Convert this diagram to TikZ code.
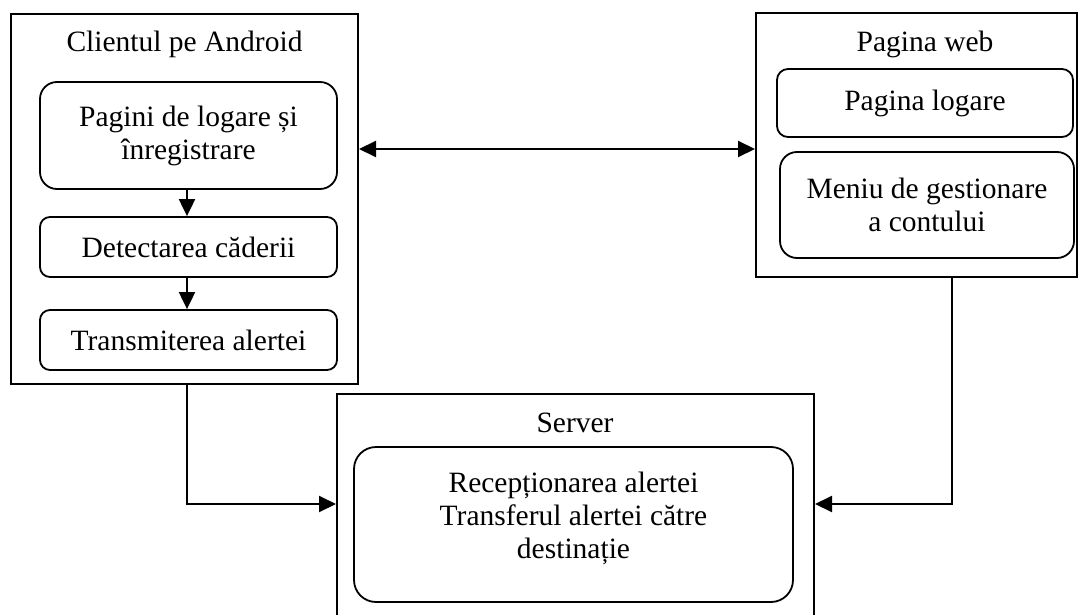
\documentclass[tikz,border=0pt]{standalone}
\usepackage{fontspec}
\setmainfont{Liberation Serif}
\usetikzlibrary{arrows.meta,calc}
\tikzset{
  outerbox/.style={draw, line width=2pt, inner sep=0pt},
  innerbox/.style={draw, line width=1.8pt, inner sep=0pt, align=center},
  txt/.style={inner sep=0pt, align=center},
  arr/.style={line width=2pt, -{Triangle[length=17pt,width=16pt]}},
  biarr/.style={line width=2pt, {Triangle[length=17pt,width=16pt]}-{Triangle[length=17pt,width=16pt]}}
}
\begin{document}
\begin{tikzpicture}[x=1pt,y=-1pt,font=\fontsize{29.5}{33}\selectfont]
\clip (0,0) rectangle (1079,615);
\fill[white] (0,0) rectangle (1079,615);
% Android client
\node[outerbox, minimum width=347pt, minimum height=370pt] (client) at (184.5,199) {};
\node[txt, anchor=base] (clienttitle) at (184.5,52) {Clientul pe Android};
\node[innerbox, rounded corners=17pt, minimum width=297pt, minimum height=107pt] (cl1) at (188.5,135.5) {Pagini de logare și\\înregistrare};
\node[innerbox, rounded corners=10pt, minimum width=297pt, minimum height=60pt] (cl2) at (188.5,247) {Detectarea căderii};
\node[innerbox, rounded corners=10pt, minimum width=297pt, minimum height=60pt] (cl3) at (188.5,340) {Transmiterea alertei};
% Web page
\node[outerbox, minimum width=321pt, minimum height=264pt] (web) at (916.5,145) {};
\node[txt, anchor=base] (webtitle) at (925,52) {Pagina web};
\node[innerbox, rounded corners=11pt, minimum width=296pt, minimum height=68pt] (w1) at (925,103) {Pagina logare};
\node[innerbox, rounded corners=17pt, minimum width=294pt, minimum height=106pt] (w2) at (927,205) {Meniu de gestionare\\a contului};
% Server
\node[outerbox, minimum width=477pt, minimum height=246pt] (server) at (575.5,517) {};
\node[txt, anchor=base] (servertitle) at (575,432) {Server};
\node[innerbox, rounded corners=22pt, minimum width=439pt, minimum height=155pt] (s1) at (573.5,524.5) {};
\node[txt] (s1text) at (573.5,518) {Recepționarea alertei\\Transferul alertei către\\destinație};
% connectors
\draw[arr] ([xshift=-1.5pt]cl1.south) -- ([xshift=-1.5pt]cl2.north);
\draw[arr] ([xshift=-1.5pt]cl2.south) -- ([xshift=-1.5pt]cl3.north);
\draw[biarr] ([yshift=50pt]client.east) -- ([yshift=-4pt]web.west);
\draw[arr] ([xshift=2.5pt]client.south) |- ([yshift=13pt]server.west);
\draw[arr] ([xshift=35.5pt]web.south) |- ([yshift=13pt]server.east);
\end{tikzpicture}
\end{document}
